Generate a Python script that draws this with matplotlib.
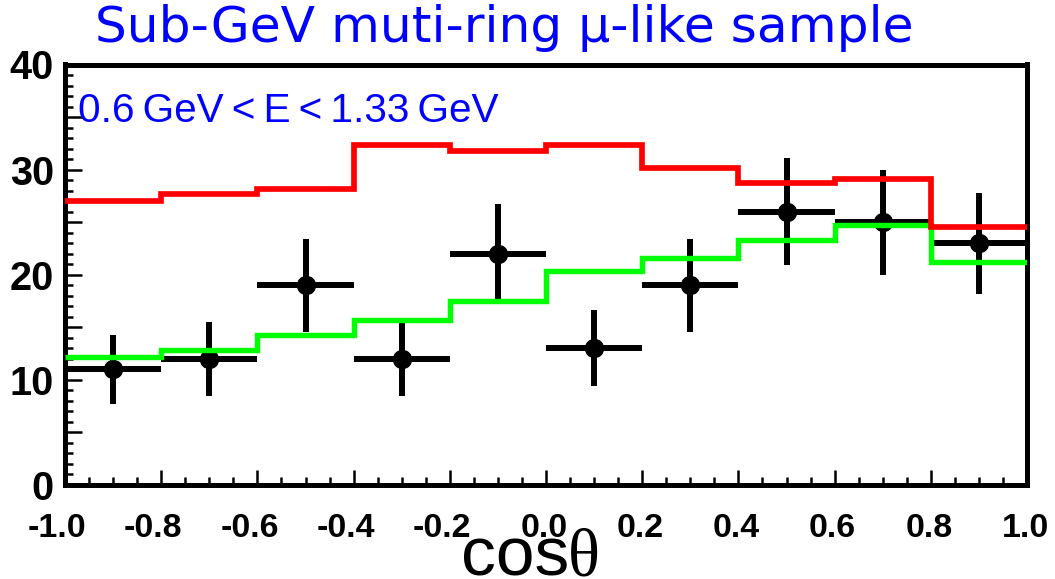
import numpy as np
import matplotlib
matplotlib.use("Agg")
import matplotlib.pyplot as plt
from matplotlib.ticker import MultipleLocator, FuncFormatter
from matplotlib.transforms import ScaledTranslation

plt.rcParams["axes.unicode_minus"] = False

# bin edges in cos(theta)
edges = [-1.0, -0.8, -0.6, -0.4, -0.2, 0.0, 0.2, 0.4, 0.6, 0.8, 1.0]

# expectation without oscillation (red) and with oscillation (green)
red_mc = [27.0, 27.7, 28.2, 32.35, 31.8, 32.3, 30.2, 28.7, 29.1, 24.5]
green_mc = [12.2, 12.8, 14.3, 15.7, 17.5, 20.4, 21.6, 23.3, 24.7, 21.2]

# observed data
data = [11, 12, 19, 12, 22, 13, 19, 26, 25, 23]
data_err = [3.3, 3.5, 4.4, 3.5, 4.7, 3.6, 4.4, 5.1, 5.0, 4.8]

xtick_labels = ["-1.0", "-0.8", "-0.6", "-0.4", "-0.2", "0.0", "0.2", "0.4", "0.6", "0.8", "1.0"]

W, H = 1055, 579
fig = plt.figure(figsize=(W / 100, H / 100), dpi=100)
ax = fig.add_axes([65 / W, 94 / H, (1027 - 65) / W, (485 - 64.5) / H])

e = np.array(edges)
centers = (e[:-1] + e[1:]) / 2
half = np.diff(e) / 2

# ---- data points ----
ax.errorbar(centers, data, xerr=half, yerr=data_err, fmt="o", color="black",
            ms=13, elinewidth=4.3, capsize=0, zorder=2)

# ---- MC histograms ----
g = ax.stairs(green_mc, edges, baseline=None, color="#00ff00", lw=3.9, zorder=3)
r = ax.stairs(red_mc, edges, baseline=None, color="#ff0000", lw=4.1, zorder=4)
for p in (g, r):
    p.set_joinstyle("miter")

ax.set_xlim(-1.0, 1.0)
ax.set_ylim(0, 40)

# ---- frame + ticks ----
for s in ax.spines.values():
    s.set_linewidth(3.6)
ax.xaxis.set_major_locator(MultipleLocator(0.2))
ax.xaxis.set_minor_locator(MultipleLocator(0.05))
ax.yaxis.set_major_locator(MultipleLocator(5))
ax.yaxis.set_minor_locator(MultipleLocator(1))
ax.tick_params(which="both", direction="in", top=False, right=False, color="black")
ax.tick_params(axis="x", which="major", length=11, width=1.8, pad=20, labelsize=24.5)
ax.tick_params(axis="x", which="minor", length=6, width=1.8)
ax.tick_params(axis="y", which="major", length=12, width=1.8, pad=8, labelsize=28.5)
ax.tick_params(axis="y", which="minor", length=5.5, width=1.8)

ax.set_xticks(edges)
ax.set_xticklabels(xtick_labels)
ax.yaxis.set_major_formatter(FuncFormatter(lambda v, p: f"{int(v)}" if v % 10 == 0 else ""))

for lab in ax.get_xticklabels() + ax.get_yticklabels():
    lab.set_fontfamily("Liberation Sans")
    lab.set_fontweight("bold")
for lab in ax.get_xticklabels():
    dx = -8 if lab.get_text().startswith("-") else -2
    lab.set_transform(lab.get_transform() + ScaledTranslation(dx / 100, 0, fig.dpi_scale_trans))
for lab in ax.get_yticklabels():
    lab.set_fontsize(28.5)
for lab in ax.get_xticklabels():
    lab.set_fontsize(24.5)

# ---- texts ----
fig.text(95 / W, 1 - 42 / H, "Sub-GeV muti-ring \u03bc-like sample", color="#0000ff",
         fontsize=36.2, family="DejaVu Sans", ha="left", va="baseline")
fig.text(78 / W, 1 - 122 / H, "0.6\u2009GeV\u2009<\u2009E\u2009<\u20091.33\u2009GeV", color="#0000ff",
         fontsize=29.2, family=["Liberation Sans", "DejaVu Sans"], ha="left", va="baseline")

fig.text(461 / W, 1 - 576 / H, "cos", fontsize=50, family="Liberation Sans",
         ha="left", va="baseline")
fig.text(568 / W, 1 - 576 / H, "\u03b8", fontsize=48, family="Liberation Serif",
         ha="left", va="baseline")

fig.savefig("out.png", dpi=100)
